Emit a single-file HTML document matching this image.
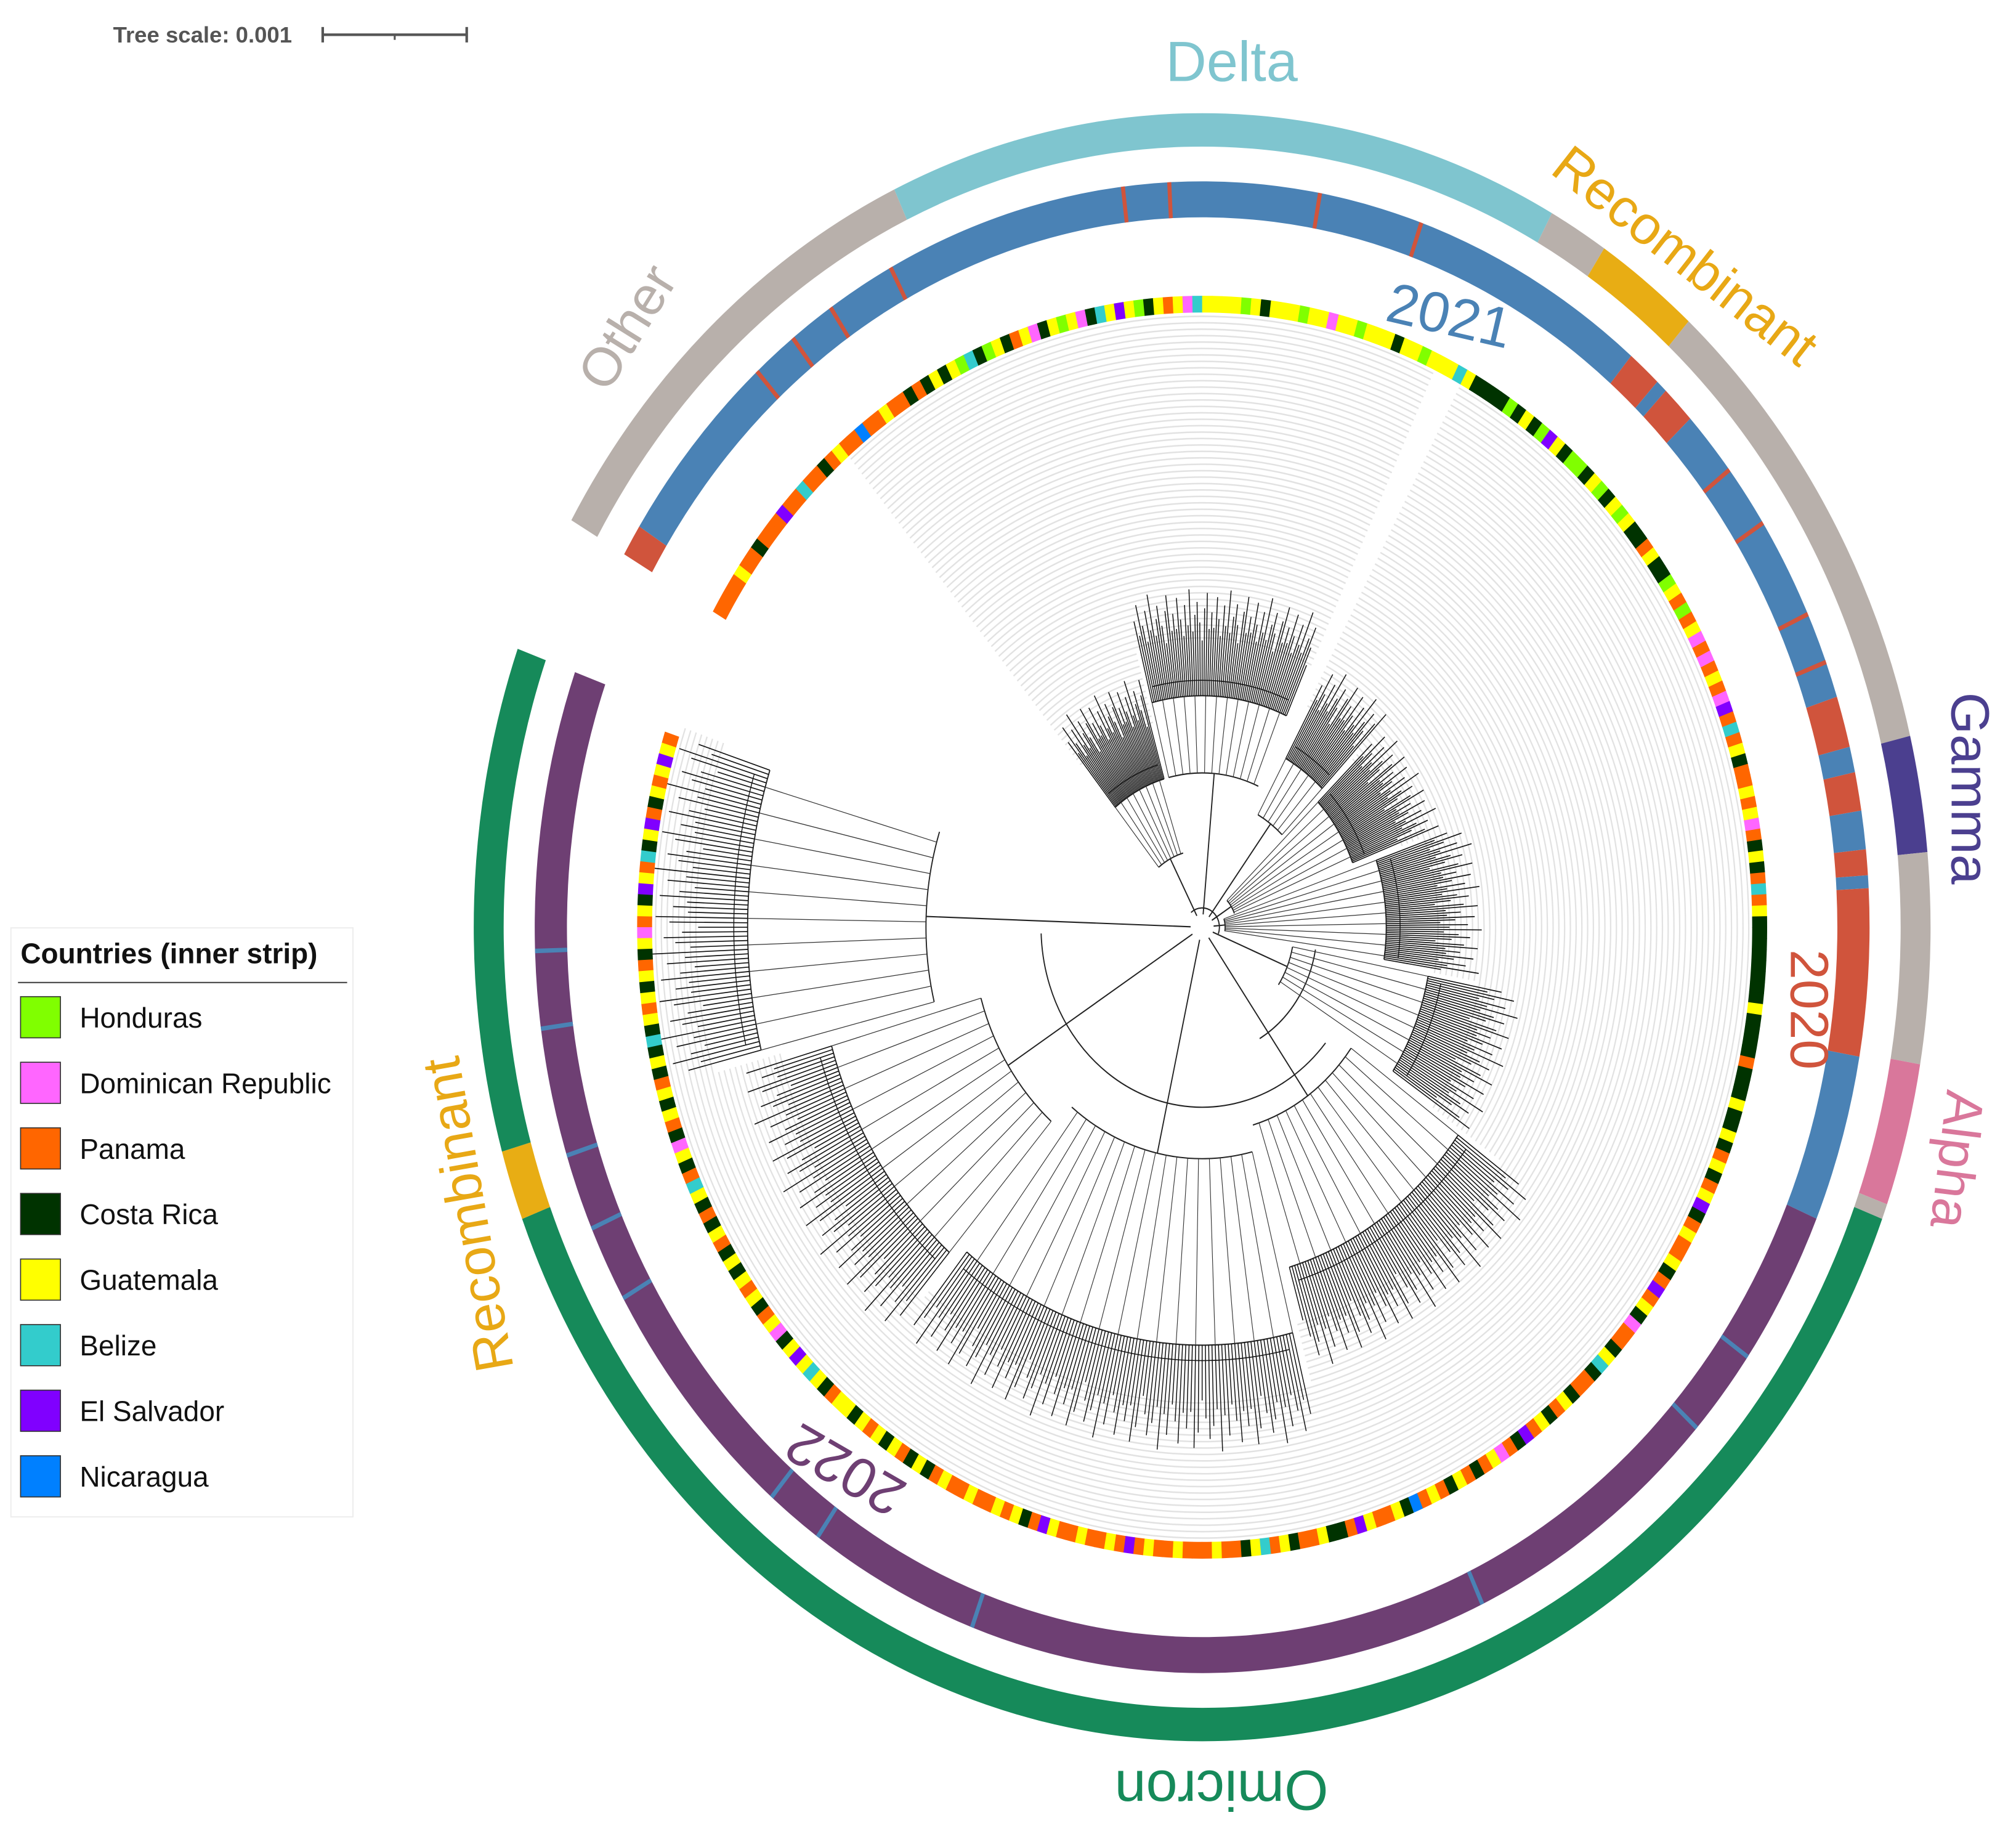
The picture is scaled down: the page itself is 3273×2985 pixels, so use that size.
<!DOCTYPE html>
<html><head><meta charset="utf-8">
<style>
html,body{margin:0;padding:0;background:#fff;}
svg{display:block;font-family:"Liberation Sans",sans-serif;}
</style></head>
<body>
<svg id="chart" width="3273" height="2985" viewBox="0 0 1568 1430" preserveAspectRatio="none" xmlns="http://www.w3.org/2000/svg">
<rect width="1568" height="1430" fill="#fff"/>
<g id="scale">
  <text x="88" y="33" font-size="17.5" font-weight="bold" fill="#555">Tree scale: 0.001</text>
  <line x1="251" y1="27" x2="363" y2="27" stroke="#555" stroke-width="2"/>
  <line x1="251" y1="21" x2="251" y2="33" stroke="#555" stroke-width="2"/>
  <line x1="363" y1="21" x2="363" y2="33" stroke="#555" stroke-width="2"/>
  <line x1="307" y1="27" x2="307" y2="31" stroke="#555" stroke-width="1.5"/>
</g>
<g id="rings" transform="translate(935,721) scale(0.895,1)">
  <g id="guides"></g>
  <g id="tree"></g>
  <g id="country"></g>
  <g id="year"></g>
  <g id="lineage"></g>
</g>
<g id="labels" font-family="Liberation Sans, sans-serif">
  <text x="958" y="63" font-size="44" fill="#7fc5cf" text-anchor="middle">Delta</text>
  <text transform="translate(1302,210) rotate(38)" font-size="42" fill="#e8a815" text-anchor="middle">Recombinant</text>
  <text transform="translate(500,262) rotate(-58)" font-size="42" fill="#b8b0ab" text-anchor="middle">Other</text>
  <text transform="translate(1124,260) rotate(13)" font-size="44" fill="#4a82b5" text-anchor="middle">2021</text>
  <text transform="translate(1518,613) rotate(90)" font-size="42" fill="#4b3f8f" text-anchor="middle">Gamma</text>
  <text transform="translate(1393,785) rotate(90)" font-size="42" fill="#d0543c" text-anchor="middle">2020</text>
  <text transform="translate(1508,900) rotate(97)" font-size="42" fill="#d9779b" text-anchor="middle">Alpha</text>
  <text transform="translate(950,1377) rotate(180)" font-size="44" fill="#168a5a" text-anchor="middle">Omicron</text>
  <text transform="translate(665,1130) rotate(210)" font-size="44" fill="#6e3f73" text-anchor="middle">2022</text>
  <text transform="translate(378,942) rotate(-100)" font-size="42" fill="#e8a815" text-anchor="middle">Recombinant</text>
</g>
<g id="legend">
  <rect x="8.5" y="721.5" width="266" height="458" fill="#fff" stroke="#eee"/>
  <text x="16" y="749" font-size="22" font-weight="bold" fill="#111">Countries (inner strip)</text>
  <line x1="14" y1="764" x2="270" y2="764" stroke="#444" stroke-width="1"/>
</g>
</svg>
<script>
const countryNames = ["Honduras","Dominican Republic","Panama","Costa Rica","Guatemala","Belize","El Salvador","Nicaragua"];
const countryCodes = ["H","D","P","C","G","B","E","N"];
const countryColors = ["#80ff00","#ff66ff","#ff6600","#003300","#ffff00","#33cccc","#8000ff","#0080ff"];
const lineageNames = ["Other","Delta","Other","Recombinant","Other","Gamma","Other","Alpha","Other","Omicron","Recombinant","Omicron"];
const lineageStart = [300,335,28.7,33.5,41.9,76.4,84.7,99.7,109.9,111,249,254];
const lineageEnd =   [335,388.7,33.5,41.9,76.4,84.7,99.7,109.9,111,249,254,290];
const lineageColors = {"Other":"#b8b0ab","Delta":"#7fc5cf","Recombinant":"#e8ad14","Gamma":"#4b3f8f","Alpha":"#d9779b","Omicron":"#168a5a"};
const yearNames = ["2020","2021","2020","2021","2020","2021","2020","2021","2020","2021","2020","2021","2020","2021","2022"];
const yearStart = [300,302.5,400,403,404,407,432,436,438,441,444,446,447,460,473];
const yearEnd =   [302.5,400,403,404,407,432,436,438,441,444,446,447,460,473,650];
const yearStripeAngles = [318,322,326,332,353,357,370,379,412,417,425,429,485,492,515,560,575,580,600,606,612,622,628];
const yearColors = {"2020":"#d0543c","2021":"#4a82b5","2022":"#6e3f73"};
const countrySeq = "PPPPGPPCPPPEPPBPPCPGPPNPPGPPCP"+"CGCGHBCHGCPGDCGHGDCBGEGHCGPGDB"+"GGGGHGCGGGHGGDGGHGGGCGGHGGGBGC"+"CCCHCGCHEGCHHCGHCGHGCCPGCCHGPH"+"PGDPDPGPDEPBPGCPPGPGDPCGCPBPGC"+"CCCCCCCGCCCCPCCCGCCGCPGCPGECPG"+"PPGCPEPGCDPPCGBCPPCGPCGPECPDGP"+"CPGCPGPNCGPPGEPCCGPPCGPBGCPPGP"+"PPGPPGPEPGPPGPPGEPCGPGPPGPPGPC"+"GCPGCGPGCGGPCGBGEGCDGPCGPGCGCP"+"GCPCGBPCGDCPGCGPCGCBCGPGCGPCGD"+"PGCEGPBCGEPCGPGEGP";
const countryStartAngle = 300;
const cladeStart = [320,345,28,45,70,100,125,165,220,255];
const cladeEnd =   [345,385,45,70,100,125,165,220,255,289];
const cladeBaseR = [60,120,100,30,20,80,160,180,200,240];
const cladeTipR =  [175,235,205,195,215,255,330,380,390,450];
const tipLenPattern = [30,18,42,25,12,36,20,48,15,28,38,22,8,33,45,17];

const NS="http://www.w3.org/2000/svg";
function pt(r,a){const t=a*Math.PI/180;return [r*Math.sin(t),-r*Math.cos(t)];}
function sector(r1,r2,a1,a2){
  const [x1,y1]=pt(r2,a1),[x2,y2]=pt(r2,a2),[x3,y3]=pt(r1,a2),[x4,y4]=pt(r1,a1);
  const lg=(a2-a1)>180?1:0;
  return `M${x1},${y1}A${r2},${r2} 0 ${lg} 1 ${x2},${y2}L${x3},${y3}A${r1},${r1} 0 ${lg} 0 ${x4},${y4}Z`;
}
function arc(r,a1,a2){const [x1,y1]=pt(r,a1),[x2,y2]=pt(r,a2);const lg=(a2-a1)>180?1:0;return `M${x1},${y1}A${r},${r} 0 ${lg} 1 ${x2},${y2}`;}
function mk(tag,parent,attrs){const e=document.createElementNS(NS,tag);for(const k in attrs)e.setAttribute(k,attrs[k]);parent.appendChild(e);return e;}

const gL=document.getElementById('lineage');
lineageNames.forEach((n,i)=>{
  const e=mk('path',gL,{d:sector(607,633,lineageStart[i],lineageEnd[i]),fill:lineageColors[n]});
  
  
});
const gY=document.getElementById('year');
yearNames.forEach((n,i)=>{
  const e=mk('path',gY,{d:sector(552,580,yearStart[i],yearEnd[i]),fill:yearColors[n]});
  
  
});
yearStripeAngles.forEach(a=>{
  const col = a<473 ? yearColors["2020"] : yearColors["2021"];
  const e=mk('path',gY,{d:sector(552,580,a,a+0.35),fill:col});
  
  
});
const gC=document.getElementById('country');
for(let i=0;i<countrySeq.length;i++){
  const idx=countryCodes.indexOf(countrySeq[i]);
  const a=countryStartAngle+i;
  const e=mk('path',gC,{d:sector(478,491,a,a+1.05),fill:countryColors[idx]});
  
  
}
const gG=document.getElementById('guides');
cladeStart.forEach((s,i)=>{
  for(let r=cladeTipR[i]-10;r<476;r+=5){
    mk('path',gG,{d:arc(r,s,cladeEnd[i]),fill:'none',stroke:'#e2e2e2','stroke-width':1.2});
  }
});
const gT=document.getElementById('tree');
mk('path',gT,{d:arc(140,130,268),fill:'none',stroke:'#222','stroke-width':1});
mk('path',gT,{d:arc(100,100,150),fill:'none',stroke:'#222','stroke-width':1});
mk('path',gT,{d:arc(15,320,470),fill:'none',stroke:'#222','stroke-width':1});
cladeStart.forEach((s,i)=>{
  const mid=(s+cladeEnd[i])/2;
  const [x0,y0]=pt(10,mid),[x1,y1]=pt(cladeBaseR[i],mid);
  mk('line',gT,{x1:x0,y1:y0,x2:x1,y2:y1,stroke:'#222','stroke-width':1});
  mk('path',gT,{d:arc(cladeBaseR[i],s+1,cladeEnd[i]-1),fill:'none',stroke:'#222','stroke-width':1});
  const inner=cladeTipR[i]-55;
  mk('path',gT,{d:arc(inner,s+1,cladeEnd[i]-1),fill:'none',stroke:'#222','stroke-width':1});
  mk('path',gT,{d:arc(inner+12,s+2,cladeEnd[i]-2),fill:'none',stroke:'#222','stroke-width':0.8});
  for(let a=s+1,k=0;a<cladeEnd[i]-0.5;a+=0.5,k++){
    const [ax,ay]=pt(cladeBaseR[i],a),[bx,by]=pt(inner,a);
    if(k%6===0) mk('line',gT,{x1:ax,y1:ay,x2:bx,y2:by,stroke:'#333','stroke-width':0.6});
    const L=tipLenPattern[k%tipLenPattern.length];
    const [cx,cy]=pt(inner,a),[dx,dy]=pt(cladeTipR[i]-20+L,a);
    const e=mk('line',gT,{x1:cx,y1:cy,x2:dx,y2:dy,stroke:'#111','stroke-width':0.8});
    
    
  }
});
const gLeg=document.getElementById('legend');
countryNames.forEach((n,i)=>{
  const y=775+i*51;
  const r=mk('rect',gLeg,{x:16,y:y,width:31,height:32,fill:countryColors[i],stroke:'#333','stroke-width':0.8});
  
  
  const t=mk('text',gLeg,{x:62,y:y+24,'font-size':22,fill:'#111'});
  t.textContent=n;
  
  
});
</script>
</body></html>
